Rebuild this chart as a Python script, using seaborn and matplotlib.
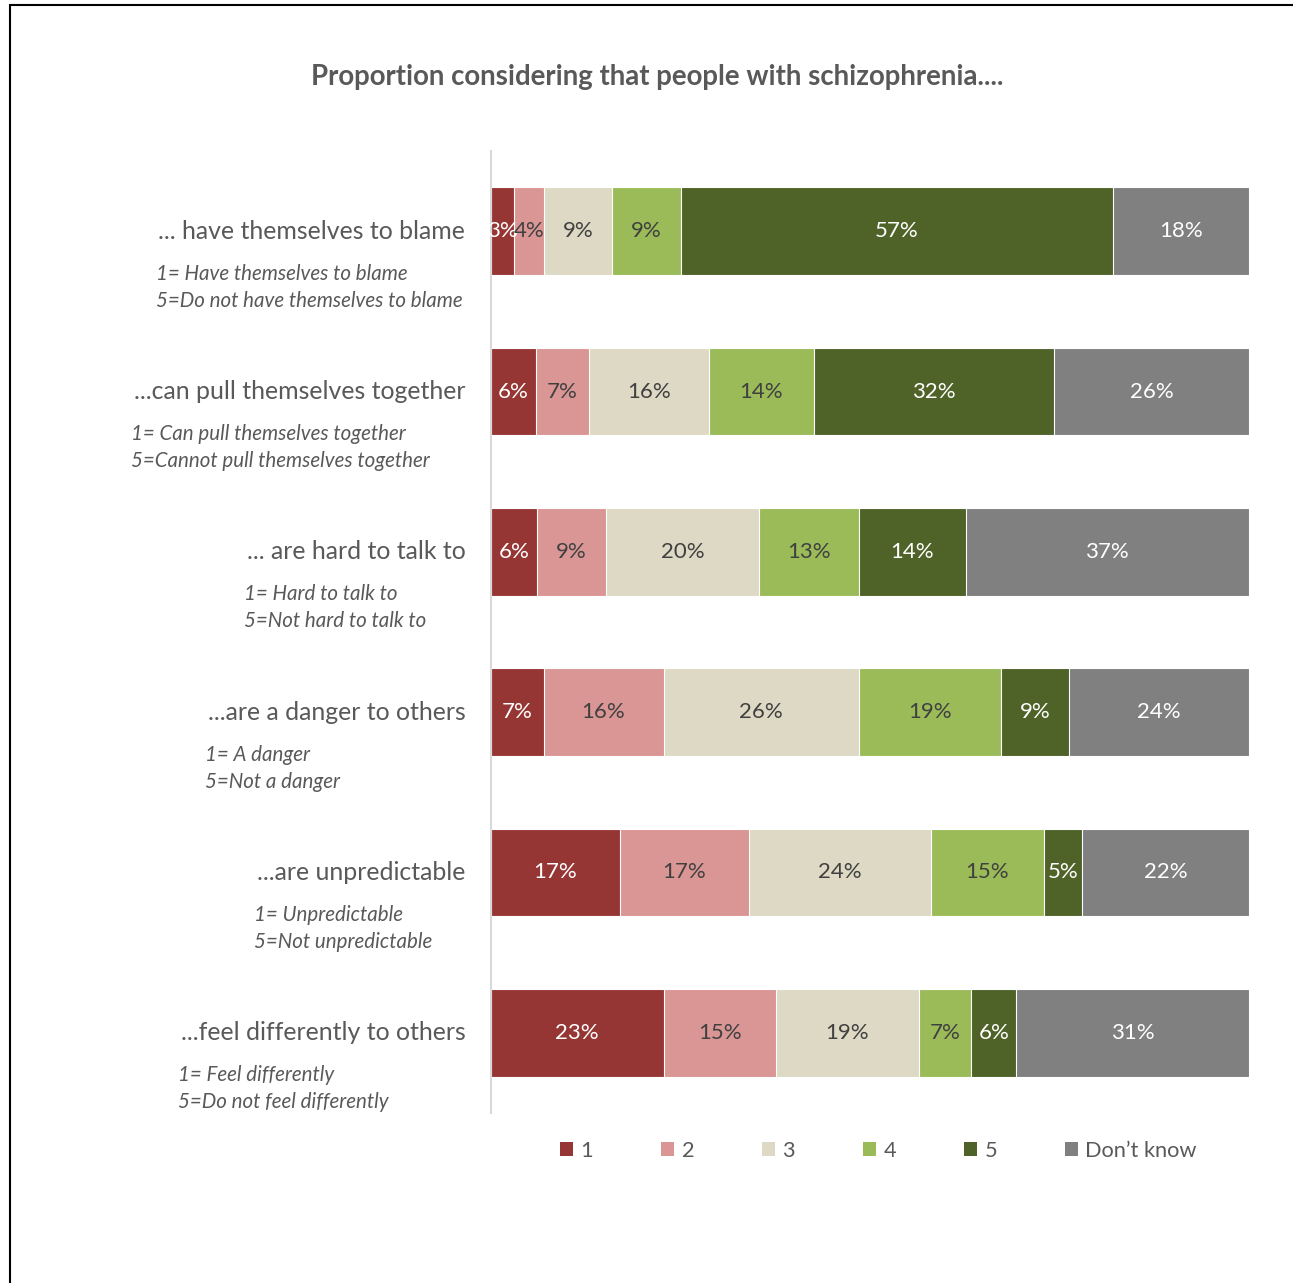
import matplotlib
matplotlib.use("Agg")
import matplotlib.pyplot as plt
from matplotlib.patches import Patch, Rectangle
import seaborn as sns
import pandas as pd
import numpy as np

# Statements and scale anchors
statements = [
    "... have themselves to blame",
    "...can pull themselves together",
    "... are hard to talk to",
    "...are a danger to others",
    "...are unpredictable",
    "...feel differently to others",
]
anchors = [
    ("1= Have themselves to blame", "5=Do not have themselves to blame"),
    ("1= Can pull themselves together", "5=Cannot pull themselves together"),
    ("1= Hard to talk to", "5=Not hard to talk to"),
    ("1= A danger", "5=Not a danger"),
    ("1= Unpredictable", "5=Not unpredictable"),
    ("1= Feel differently", "5=Do not feel differently"),
]

# Response shares (%) per statement
resp_1 = [3, 6, 6, 7, 17, 23]
resp_2 = [4, 7, 9, 16, 17, 15]
resp_3 = [9, 16, 20, 26, 24, 19]
resp_4 = [9, 14, 13, 19, 15, 7]
resp_5 = [57, 32, 14, 9, 5, 6]
resp_dk = [18, 26, 37, 24, 22, 31]

series_names = ["1", "2", "3", "4", "5", "Don\u2019t know"]
series_values = [resp_1, resp_2, resp_3, resp_4, resp_5, resp_dk]
colors = ["#963634", "#DA9694", "#DDD9C4", "#9BBB59", "#4F6228", "#808080"]
label_colors = ["white", "#404040", "#404040", "#404040", "white", "white"]

sns.set_theme(style="white")
plt.rcParams["font.family"] = ["Lato", "DejaVu Sans"]

vals = np.array(series_values, dtype=float)          # series x statements
shares = vals / vals.sum(axis=0) * 100               # 100% stacked
cum = np.cumsum(shares, axis=0)

fig = plt.figure(figsize=(12.93, 12.83), dpi=100)
ax = fig.add_axes([491 / 1293, 1 - 1113 / 1283, (1249 - 491) / 1293, 962 / 1283])

# Stacked bars: draw cumulative totals from the outermost segment inwards
for i in range(len(series_names) - 1, -1, -1):
    df = pd.DataFrame({"statement": statements, "value": cum[i]})
    sns.barplot(data=df, y="statement", x="value", order=statements,
                color=colors[i], saturation=1, width=0.545, orient="h",
                edgecolor="white", linewidth=0.8, ax=ax)

# Value labels
for i in range(len(series_names)):
    for j in range(len(statements)):
        mid = cum[i, j] - shares[i, j] / 2
        ax.text(mid, j, f"{series_values[i][j]}%", ha="center", va="center",
                fontsize=16, color=label_colors[i])

ax.set_xlim(0, 100)
ax.set_ylim(len(statements) - 0.5, -0.5)
ax.set_xlabel("")
ax.set_ylabel("")
ax.set_xticks([])
ax.set_yticks([])
for s in ["top", "right", "bottom"]:
    ax.spines[s].set_visible(False)
ax.spines["left"].set_color("#d9d9d9")
ax.spines["left"].set_linewidth(1.5)

# Statement labels with italic scale anchors underneath
for j, (stmt, (a1, a5)) in enumerate(zip(statements, anchors)):
    t = ax.annotate(stmt, xy=(0, j), xycoords="data", xytext=(-18.5, 0),
                    textcoords="offset points", ha="right", va="center",
                    fontsize=17.9, color="#595959")
    ax.annotate(a1 + "\n" + a5, xy=(0, 0), xycoords=t, xytext=(-2, -15),
                textcoords="offset points", ha="left", va="top",
                fontsize=14.8, style="italic", color="#595959", linespacing=1.45)

fig.text(657 / 1293, 1 - 77 / 1283, "Proportion considering that people with schizophrenia....",
         ha="center", va="center", fontsize=19.9, fontweight="bold", color="#595959")

handles = [Patch(facecolor=c, edgecolor="none") for c in colors]
leg = fig.legend(handles, series_names, loc="center left",
                 bbox_to_anchor=(549 / 1293, 1 - 1151 / 1283), ncol=6, frameon=False,
                 fontsize=15.7, handlelength=0.6, handleheight=0.6, handletextpad=0.35,
                 columnspacing=3.1, labelcolor="#595959", borderpad=0)

# Page frame
fig.patches.append(Rectangle((10 / 1293, -0.1), 1.2, 1 - 5 / 1283 + 0.1,
                             transform=fig.transFigure, fill=False,
                             edgecolor="black", linewidth=1.5))

fig.savefig("out.png", dpi=100)
